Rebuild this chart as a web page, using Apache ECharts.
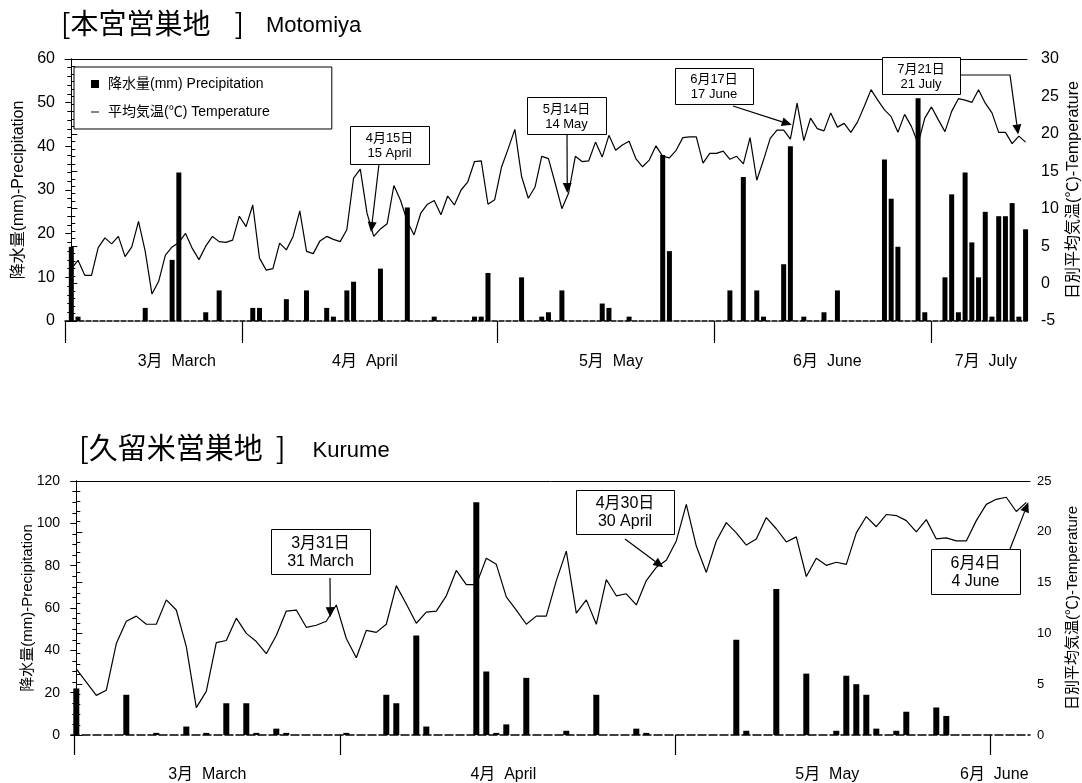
<!DOCTYPE html>
<html>
<head>
<meta charset="utf-8">
<script src="https://cdn.jsdelivr.net/npm/echarts@6/dist/echarts.min.js"></script>
<style>
  html, body { margin: 0; padding: 0; background: #fff; }
  #chart { width: 1082px; height: 783px; }
</style>
</head>
<body>
<div id="chart"></div>
<script>
// 本宮 Motomiya: one value per day, index 0 = 1 March ... index 142 = 21 July
const motoTemp = [
  2.0, 3.1, 1.1, 1.1, 4.8, 6.1, 5.3, 6.3, 3.6, 4.9,
  8.3, 4.3, -1.4, 0.3, 3.8, 4.9, 5.5, 6.7, 4.7, 3.2,
  5.0, 6.3, 5.6, 5.5, 5.8, 9.0, 7.6, 10.5, 3.4, 1.8,
  2.0, 5.4, 4.5, 6.3, 9.7, 4.3, 4.0, 5.7, 6.3, 5.9,
  5.6, 7.2, 14.1, 15.3, 9.4, 6.3, 7.3, 8.0, 13.1, 11.1,
  8.3, 6.5, 9.4, 10.6, 11.1, 9.2, 11.7, 10.5, 12.5, 13.6,
  16.3, 16.4, 10.6, 11.2, 15.5, 18.0, 20.6, 14.3, 11.4, 12.9,
  17.0, 16.7, 13.4, 10.0, 12.1, 17.0, 16.3, 16.4, 18.9, 16.9,
  19.8, 17.8, 18.5, 19.0, 16.7, 15.6, 16.5, 18.4, 17.0, 16.8,
  17.8, 19.5, 19.6, 19.6, 16.1, 17.4, 17.4, 17.7, 16.6, 17.0,
  16.0, 19.5, 13.8, 16.5, 19.4, 20.5, 20.5, 19.3, 24.1, 19.1,
  22.1, 20.7, 20.4, 22.8, 20.9, 21.4, 20.2, 21.6, 23.7, 25.9,
  24.5, 23.2, 22.3, 20.2, 22.6, 21.0, 18.7, 22.1, 23.6, 21.9,
  20.3, 23.0, 24.7, 24.5, 24.2, 25.9, 24.1, 22.8, 20.2, 20.2,
  18.7, 19.7, 18.9
];
const motoRainDay = [0, 1, 11, 15, 16, 20, 22, 27, 28, 32, 35, 38, 39, 41, 42, 46, 50, 54, 60, 61,
  62, 67, 70, 71, 73, 79, 80, 83, 88, 89, 98, 100, 102, 103, 106, 107, 109, 112, 114, 121,
  122, 123, 126, 127, 130, 131, 132, 133, 134, 135, 136, 137, 138, 139, 140, 141, 142];
const motoRainMm = [17, 1, 3, 14, 34, 2, 7, 3, 3, 5, 7, 3, 1, 7, 9, 12, 26, 1, 1, 1,
  11, 10, 1, 2, 7, 4, 3, 1, 38, 16, 7, 33, 7, 1, 13, 40, 1, 2, 7, 37,
  28, 17, 51, 2, 10, 29, 2, 34, 18, 10, 25, 1, 24, 24, 27, 1, 21];

// 久留米 Kurume: 96 daily points
const kuruTemp = [
  6.5, 5.2, 3.9, 4.4, 9.0, 11.2, 11.7, 10.9, 10.9, 13.3,
  12.3, 8.7, 2.7, 4.3, 9.1, 9.3, 11.5, 10.0, 9.2, 8.0,
  9.8, 12.2, 12.3, 10.6, 10.8, 11.2, 12.8, 9.5, 7.6, 10.3,
  10.1, 10.9, 14.7, 12.9, 11.0, 12.1, 12.2, 13.7, 16.2, 14.8,
  14.8, 17.4, 16.8, 13.6, 12.3, 10.9, 11.7, 11.7, 15.2, 18.1,
  12.0, 13.3, 10.9, 15.3, 13.7, 13.9, 12.8, 15.2, 16.5, 17.2,
  19.1, 22.7, 18.6, 16.0, 19.1, 20.9, 19.9, 18.7, 19.3, 21.4,
  20.3, 19.0, 19.5, 15.6, 17.4, 16.7, 17.0, 16.8, 19.9, 21.5,
  20.5, 21.7, 21.6, 21.1, 20.0, 21.2, 19.3, 19.4, 19.1, 19.1,
  21.1, 22.7, 23.2, 23.4, 22.0, 22.9
];
const kuruRainDay = [0, 5, 8, 11, 13, 15, 17, 18, 20, 21, 27, 31, 32, 34, 35, 40, 41, 42, 43, 45,
  49, 52, 56, 57, 66, 67, 70, 73, 76, 77, 78, 79, 80, 82, 83, 86, 87];
const kuruRainMm = [22, 19, 1, 4, 1, 15, 15, 1, 3, 1, 1, 19, 15, 47, 4, 110, 30, 1, 5, 27,
  2, 19, 3, 1, 45, 2, 69, 29, 2, 28, 24, 19, 3, 2, 11, 13, 9];

// month labels and separator ticks (in day-index units)
const motoMonthLabels = ['3月  March', '4月  April', '5月  May', '6月  June', '7月  July'];
const motoMonthAt = [15.7, 43.7, 80.3, 112.5, 136.1];
const motoMonthSep = [-0.94, 25.4, 63.4, 95.6, 127.9];
const kuruMonthLabels = ['3月  March', '4月  April', '5月  May', '6月  June'];
const kuruMonthAt = [13.1, 42.7, 75.1, 91.8];
const kuruMonthSep = [-0.23, 26.4, 59.9, 91.4];

// date call-outs: target is [day index, temperature]
const callouts = [
  { grid: 0, text: '4月15日\n15 April', box: [350, 126, 79, 38], from: [[379, 164]], at: [44.6, 6.9], size: 13 },
  { grid: 0, text: '5月14日\n14 May', box: [527, 97, 79, 37], from: [[567, 134]], at: [73.8, 12.1], size: 13 },
  { grid: 0, text: '6月17日\n17 June', box: [675, 68, 78, 36], from: [[733, 106]], at: [107.2, 21.2], size: 13 },
  { grid: 0, text: '7月21日\n21 July', box: [882, 57, 78, 37], from: [[960, 75], [1010, 75]], at: [140.9, 19.9], size: 13 },
  { grid: 1, text: '3月31日\n31 March', box: [271, 529, 99, 45], from: [[330, 578]], at: [25.4, 11.6], size: 16 },
  { grid: 1, text: '4月30日\n30 April', box: [576, 490, 98, 44], from: [[625, 539]], at: [58.7, 16.5], size: 16 },
  { grid: 1, text: '6月4日\n4 June', box: [931, 549, 89, 45], from: [[1010, 549]], at: [95.2, 22.9], size: 16 }
];

const rainName = '降水量(mm) Precipitation';
const tempName = '平均気温(℃) Temperature';
const font = "'Liberation Sans', 'Noto Sans CJK JP', sans-serif";
const jp = "'Noto Sans CJK JP', sans-serif";

const chart = echarts.init(document.getElementById('chart'), null, { renderer: 'canvas' });

function nearest(list, v) {
  let best = 0;
  list.forEach((a, k) => { if (Math.abs(a - v) < Math.abs(list[best] - v)) best = k; });
  return best;
}

function monthAxis(gridIndex, min, max, sep, at, labels, dash, tickLen, margin) {
  return {
    type: 'value', gridIndex, min, max, position: 'bottom',
    axisLine: { show: true, onZero: false, lineStyle: { color: '#000', width: 1.5, type: dash } },
    axisTick: { show: true, inside: false, length: tickLen, customValues: sep, lineStyle: { color: '#000', width: 1.2 } },
    axisLabel: {
      show: true, customValues: at, margin,
      fontFamily: font, fontSize: 16, color: '#000',
      formatter: (v) => labels[nearest(at, v)]
    },
    splitLine: { show: false }
  };
}

function frameAxis(gridIndex, min, max) {
  return {
    type: 'value', gridIndex, min, max, position: 'top',
    axisLine: { show: true, onZero: false, lineStyle: { color: '#000', width: 1 } },
    axisTick: { show: false }, axisLabel: { show: false }, splitLine: { show: false }
  };
}

function valueAxis(gridIndex, position, min, max, interval, minorSplit, labelSize, margin, name, nameSize, nameGap) {
  return {
    type: 'value', gridIndex, position, min, max, interval,
    name, nameLocation: 'middle', nameGap, nameRotate: 90, nameMoveOverlap: false,
    nameTextStyle: { fontFamily: font, fontSize: nameSize, color: '#000' },
    axisLine: { show: true, lineStyle: { color: '#000', width: 1 } },
    axisTick: { show: true, inside: false, length: 6, lineStyle: { color: '#000' } },
    minorTick: { show: true, splitNumber: minorSplit, length: 4, lineStyle: { color: '#000' } },
    axisLabel: { fontFamily: font, fontSize: labelSize, color: '#000', margin },
    splitLine: { show: false }
  };
}

function titleRich(cjkSize, gapBefore, gapAfter) {
  return {
    br: { fontFamily: jp, fontSize: cjkSize, fontWeight: 'normal', color: '#000' },
    jp: { fontFamily: jp, fontSize: cjkSize, fontWeight: 'normal', color: '#000' },
    rb: { fontFamily: jp, fontSize: cjkSize, fontWeight: 'normal', color: '#000', padding: [0, 0, 0, gapBefore] },
    en: { fontFamily: font, fontSize: 22, fontWeight: 'normal', color: '#000', padding: [6, 0, 0, gapAfter] }
  };
}

const option = {
  backgroundColor: '#fff',
  animation: false,
  title: [
    {
      left: 56, top: 4,
      text: '{br|[}{jp|本宮営巣地}{rb|]}{en|Motomiya}',
      textStyle: { fontWeight: 'normal', rich: titleRich(28, 24, 22) }
    },
    {
      left: 74, top: 428,
      text: '{br|[}{jp|久留米営巣地}{rb|]}{en|Kurume}',
      textStyle: { fontWeight: 'normal', rich: titleRich(29, 13, 27) }
    }
  ],
  legend: {
    orient: 'vertical', left: 74, top: 67,
    itemWidth: 8, itemHeight: 8, itemGap: 14,
    padding: [10, 62, 10, 17],
    borderColor: '#000', borderWidth: 1, backgroundColor: '#fff',
    textStyle: { fontFamily: font, fontSize: 14, color: '#000', padding: [0, 0, 0, 4] },
    data: [
      { name: rainName, icon: 'rect', itemStyle: { color: '#000' } },
      { name: tempName, icon: 'path://M0,0M10,10M0,4.4H10V5.6H0Z', itemStyle: { color: '#000' } }
    ]
  },
  grid: [
    { left: 65, top: 59, width: 962, height: 262, outerBoundsMode: 'none' },
    { left: 71, top: 481, width: 959, height: 254, outerBoundsMode: 'none' }
  ],
  xAxis: [
    monthAxis(0, -0.94, 142.21, motoMonthSep, motoMonthAt, motoMonthLabels, [5, 2], 22, 33),
    frameAxis(0, -0.94, 142.21),
    monthAxis(1, -0.53, 95.37, kuruMonthSep, kuruMonthAt, kuruMonthLabels, [8, 3], 20, 32),
    frameAxis(1, -0.53, 95.37)
  ],
  yAxis: [
    valueAxis(0, 'left', 0, 60, 10, 5, 16, 10, '降水量(mm)-Precipitation', 16, 38),
    valueAxis(0, 'right', -5, 30, 5, 5, 16, 14, '日別平均気温(℃)-Temperature', 16, 39),
    valueAxis(1, 'left', 0, 120, 20, 4, 14, 11, '降水量(mm)-Precipitation', 15, 36),
    valueAxis(1, 'right', 0, 25, 5, 5, 13, 7, '日別平均気温(℃)-Temperature', 15, 35)
  ],
  series: [
    {
      name: rainName, type: 'bar', xAxisIndex: 0, yAxisIndex: 0, barWidth: 5,
      itemStyle: { color: '#000' },
      data: motoRainDay.map((d, k) => [d, motoRainMm[k]])
    },
    {
      name: tempName, type: 'line', xAxisIndex: 0, yAxisIndex: 1, symbol: 'none',
      lineStyle: { color: '#000', width: 1.2 }, itemStyle: { color: '#000' },
      data: motoTemp.map((v, i) => [i, v])
    },
    {
      name: rainName, type: 'bar', xAxisIndex: 2, yAxisIndex: 2, barWidth: 6,
      itemStyle: { color: '#000' },
      data: kuruRainDay.map((d, k) => [d, kuruRainMm[k]])
    },
    {
      name: tempName, type: 'line', xAxisIndex: 2, yAxisIndex: 3, symbol: 'none',
      lineStyle: { color: '#000', width: 1.2 }, itemStyle: { color: '#000' },
      data: kuruTemp.map((v, i) => [i, v])
    }
  ]
};

chart.setOption(option);

// call-out boxes and arrows; arrow tips come from the axes
const graphics = [];
callouts.forEach((c) => {
  const [bx, by, bw, bh] = c.box;
  const tip = chart.convertToPixel({ xAxisIndex: c.grid * 2, yAxisIndex: c.grid * 2 + 1 }, c.at);
  const last = c.from[c.from.length - 1];
  const dx = tip[0] - last[0];
  const dy = tip[1] - last[1];
  const len = Math.sqrt(dx * dx + dy * dy);
  const ux = dx / len;
  const uy = dy / len;
  const head = 10;
  const half = 4.5;
  const base = [tip[0] - ux * head, tip[1] - uy * head];
  graphics.push({
    type: 'polyline', z: 100,
    shape: { points: c.from.concat([base]) },
    style: { stroke: '#000', lineWidth: 1.2, fill: null }
  });
  graphics.push({
    type: 'polygon', z: 100,
    shape: { points: [tip, [base[0] - uy * half, base[1] + ux * half], [base[0] + uy * half, base[1] - ux * half]] },
    style: { fill: '#000' }
  });
  graphics.push({
    type: 'rect', z: 101,
    shape: { x: bx + 0.5, y: by + 0.5, width: bw, height: bh },
    style: { fill: '#fff', stroke: '#000', lineWidth: 1 }
  });
  graphics.push({
    type: 'text', z: 102, x: bx + bw / 2, y: by + bh / 2 + 1,
    style: {
      text: c.text, fontFamily: font, fontSize: c.size, lineHeight: c.size + 2,
      fill: '#000', align: 'center', verticalAlign: 'middle'
    }
  });
});
chart.setOption({ graphic: graphics });
</script>
</body>
</html>
